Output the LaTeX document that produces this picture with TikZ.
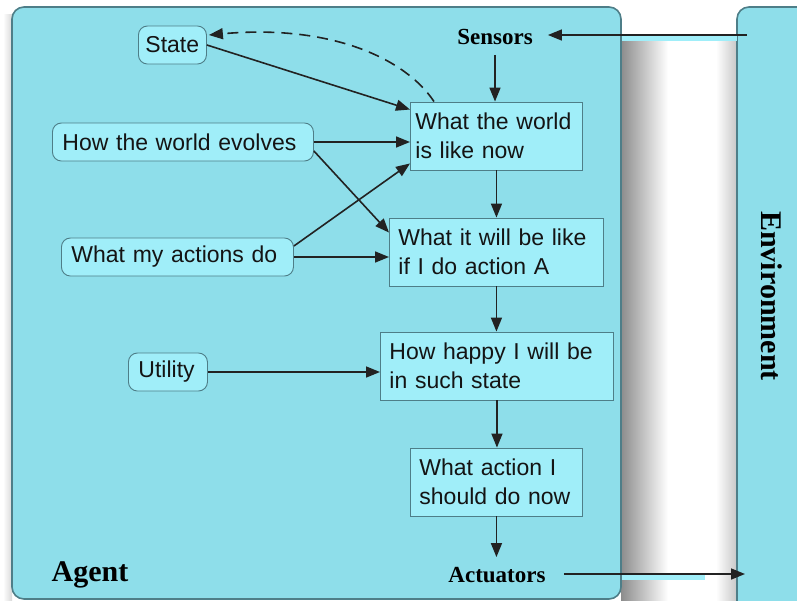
\documentclass[tikz,border=0pt]{standalone}
\usepackage{fontspec}
\setmainfont{Liberation Serif}
\setsansfont{Liberation Sans}
\usetikzlibrary{arrows.meta,calc}
\definecolor{agentfill}{RGB}{142,222,234}
\definecolor{boxfill}{RGB}{160,238,249}
\definecolor{edge}{RGB}{78,126,136}
\definecolor{wire}{RGB}{34,34,34}
\begin{document}
\begin{tikzpicture}[x=1pt,y=-1pt,
  txt/.style={font=\fontsize{23}{29}\selectfont\sffamily, text=black!92},
  pill/.style={txt, draw=edge, line width=0.9pt, fill=boxfill, rounded corners=9pt,
    inner xsep=10pt, inner ysep=0pt, minimum height=38pt, align=left, anchor=west},
  stage/.style={txt, draw=edge, line width=0.9pt, fill=boxfill, inner xsep=9pt,
    inner ysep=0pt, align=left, minimum height=68pt, anchor=west},
  port/.style={font=\fontsize{23}{23}\selectfont\bfseries\rmfamily, inner xsep=15pt, inner ysep=10pt},
  title/.style={font=\fontsize{30}{30}\selectfont\bfseries\rmfamily},
  flow/.style={draw=wire, line width=1.6pt, -{Triangle[length=14pt,width=11pt]}},
]
\useasboundingbox (0,0) rectangle (797,600);
\clip (0,0) rectangle (797,600);

% drop shadow in the gap between the two panels
\shade[left color=black!45, right color=white] (621,40) rectangle (668,600);
\shade[left color=white, right color=black!22] (716,40) rectangle (737,600);
\shade[left color=white, right color=black!15] (3,14) rectangle (12,600);

% panels
\draw[fill=agentfill, draw=edge, line width=1.6pt, rounded corners=12pt] (12,7) rectangle (621,599);
\draw[fill=agentfill, draw=edge, line width=1.6pt, rounded corners=12pt] (737,7) rectangle (815,615);

% light bands under the percept and action wires
\fill[boxfill] (622,36) rectangle (737,41);
\fill[boxfill] (622,575) rectangle (705,580);

% knowledge sources
\node[pill, text width=54pt, inner xsep=7pt] (state) at (138,45) {State};
\node[pill, text width=241pt] (evolve) at (52,142) {How the world evolves};
\node[pill, text width=212pt] (acts) at (61,257) {What my actions do};
\node[pill, text width=59pt] (util) at (128,372) {Utility};

% decision pipeline
\node[stage, text width=162pt, inner xsep=5pt] (w1) at (410,136) {\mbox{What the world}\\is like now};
\node[stage, text width=196pt] (w2) at (389,252) {What it will be like\\if I do action A};
\node[stage, text width=215pt] (w3) at (380,366) {How happy I will be\\in such state};
\node[stage, text width=154pt] (w4) at (410,482) {What action I\\should do now};

\node[port] (sensors) at (495,37) {Sensors};
\node[port] (actuators) at (497,575) {Actuators};
\node[title] (agent) at (90,575) {Agent};
\node[title, rotate=-90] (env) at (772,296) {Environment};

\coordinate (envin) at (747,35);
\coordinate (envout) at (745,574);

% percepts in, actions out
\draw[flow] (envin) -- (sensors.east |- envin);
\draw[flow, shorten <=3pt] (actuators.east |- envout) -- (envout);

% main chain
\draw[flow] (sensors.south) -- (sensors.south |- w1.north);
\draw[flow] (w1.south) -- (w1.south |- w2.north);
\draw[flow] (w2.south) -- (w2.south |- w3.north);
\draw[flow] (w3.south) -- (w3.south |- w4.north);
\draw[flow] (w4.south) -- (w4.south |- actuators.north);

% inputs to the model
\draw[flow] (state.east) -- ($(w1.north west)+(0,8)$);
\draw[flow] (evolve.east) -- (evolve.east -| w1.west);
\draw[flow] ($(evolve.east)+(0,9)$) -- ($(w2.north west)+(0,15)$);
\draw[flow] ($(acts.east)+(0,-11)$) -- ($(w1.south west)+(0,-7)$);
\draw[flow] (acts.east) -- (acts.east -| w2.west);
\draw[flow] (util.east) -- (util.east -| w3.west);

% state update
\draw[flow, dash pattern=on 11pt off 7pt] ($(w1.north west)+(24,0)$)
  .. controls (405,58) and (330,24) .. ($(state.east)+(2,-10)$);
\end{tikzpicture}
\end{document}
